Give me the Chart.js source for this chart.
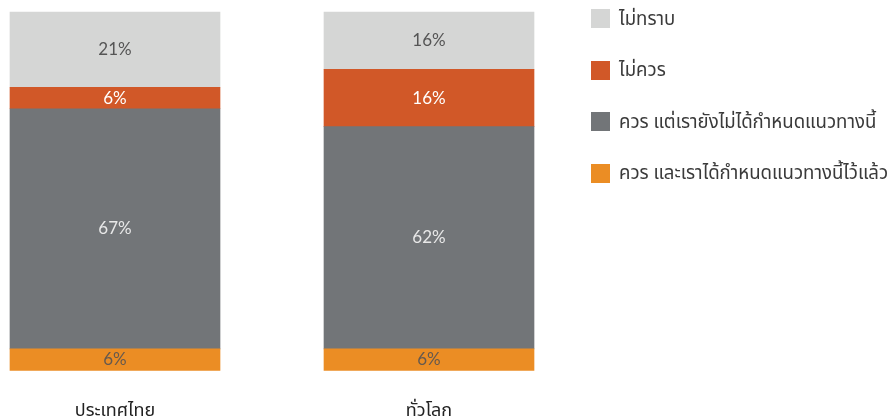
<!DOCTYPE html>
<html>
<head>
<meta charset="utf-8">
<script src="https://cdn.jsdelivr.net/npm/chart.js@4"></script>
<style>
  html, body { margin: 0; padding: 0; background: #fff; overflow: hidden; }
  #wrap { position: relative; width: 890px; height: 418px; overflow: hidden; }
  #legend { position: absolute; left: 591px; top: 9px; margin: 0; padding: 0; list-style: none;
            font-family: "Noto Sans Thai", "Noto Sans", sans-serif; font-size: 18.6px; color: #3a3a3a; }
  #legend li { display: flex; align-items: center; height: 19px; margin-bottom: 32.5px; white-space: nowrap; }
  #legend .sw { width: 19px; height: 19px; margin-right: 9px; flex: none; }
</style>
</head>
<body>
<div id="wrap">
  <canvas id="chart" width="890" height="447"></canvas>
  <ul id="legend"></ul>
</div>
<script>
// categories along the x axis
const CATEGORIES = ['ประเทศไทย', 'ทั่วโลก'];

// series, bottom of the stack first
const SERIES_NAMES = [
  'ควร และเราได้กำหนดแนวทางนี้ไว้แล้ว',
  'ควร แต่เรายังไม่ได้กำหนดแนวทางนี้',
  'ไม่ควร',
  'ไม่ทราบ'
];
const SERIES_VALUES = [
  [6, 6],
  [67, 62],
  [6, 16],
  [21, 16]
];
const SERIES_COLORS = ['#EB8D24', '#727578', '#D15828', '#D5D6D5'];
const LABEL_COLORS  = ['#65594f', '#e8e8e8', '#ffffff', '#555555'];

// writes "nn%" in the middle of every bar segment
const segmentLabels = {
  id: 'segmentLabels',
  afterDatasetsDraw(chart) {
    const ctx = chart.ctx;
    ctx.save();
    ctx.font = '17px Lato, sans-serif';
    ctx.textAlign = 'center';
    ctx.textBaseline = 'middle';
    chart.data.datasets.forEach((ds, i) => {
      chart.getDatasetMeta(i).data.forEach((bar, j) => {
        ctx.fillStyle = LABEL_COLORS[i];
        ctx.fillText(ds.data[j] + '%', bar.x, (bar.y + bar.base) / 2);
      });
    });
    ctx.restore();
  }
};

new Chart(document.getElementById('chart'), {
  type: 'bar',
  data: {
    labels: CATEGORIES,
    datasets: SERIES_NAMES.map((name, i) => ({
      label: name,
      data: SERIES_VALUES[i],
      backgroundColor: SERIES_COLORS[i],
      borderWidth: 0,
      barThickness: 210,
      clip: false
    }))
  },
  options: {
    responsive: false,
    animation: false,
    layout: { padding: { left: 115, right: 461, top: 12, bottom: 0 } },
    plugins: { legend: { display: false }, tooltip: { enabled: false } },
    scales: {
      x: {
        stacked: true,
        offset: false,
        grid: { display: false },
        border: { display: false },
        ticks: { color: '#222', padding: 23.5, font: { family: '"Noto Sans Thai", "Noto Sans", sans-serif', size: 18 } }
      },
      y: { stacked: true, display: false, min: 0, max: 100 }
    }
  },
  plugins: [segmentLabels]
});

// legend on the right, top of the stack first
const legend = document.getElementById('legend');
for (let i = SERIES_NAMES.length - 1; i >= 0; i--) {
  const li = document.createElement('li');
  li.innerHTML = `<span class="sw" style="background:${SERIES_COLORS[i]}"></span>${SERIES_NAMES[i]}`;
  legend.appendChild(li);
}
</script>
</body>
</html>
